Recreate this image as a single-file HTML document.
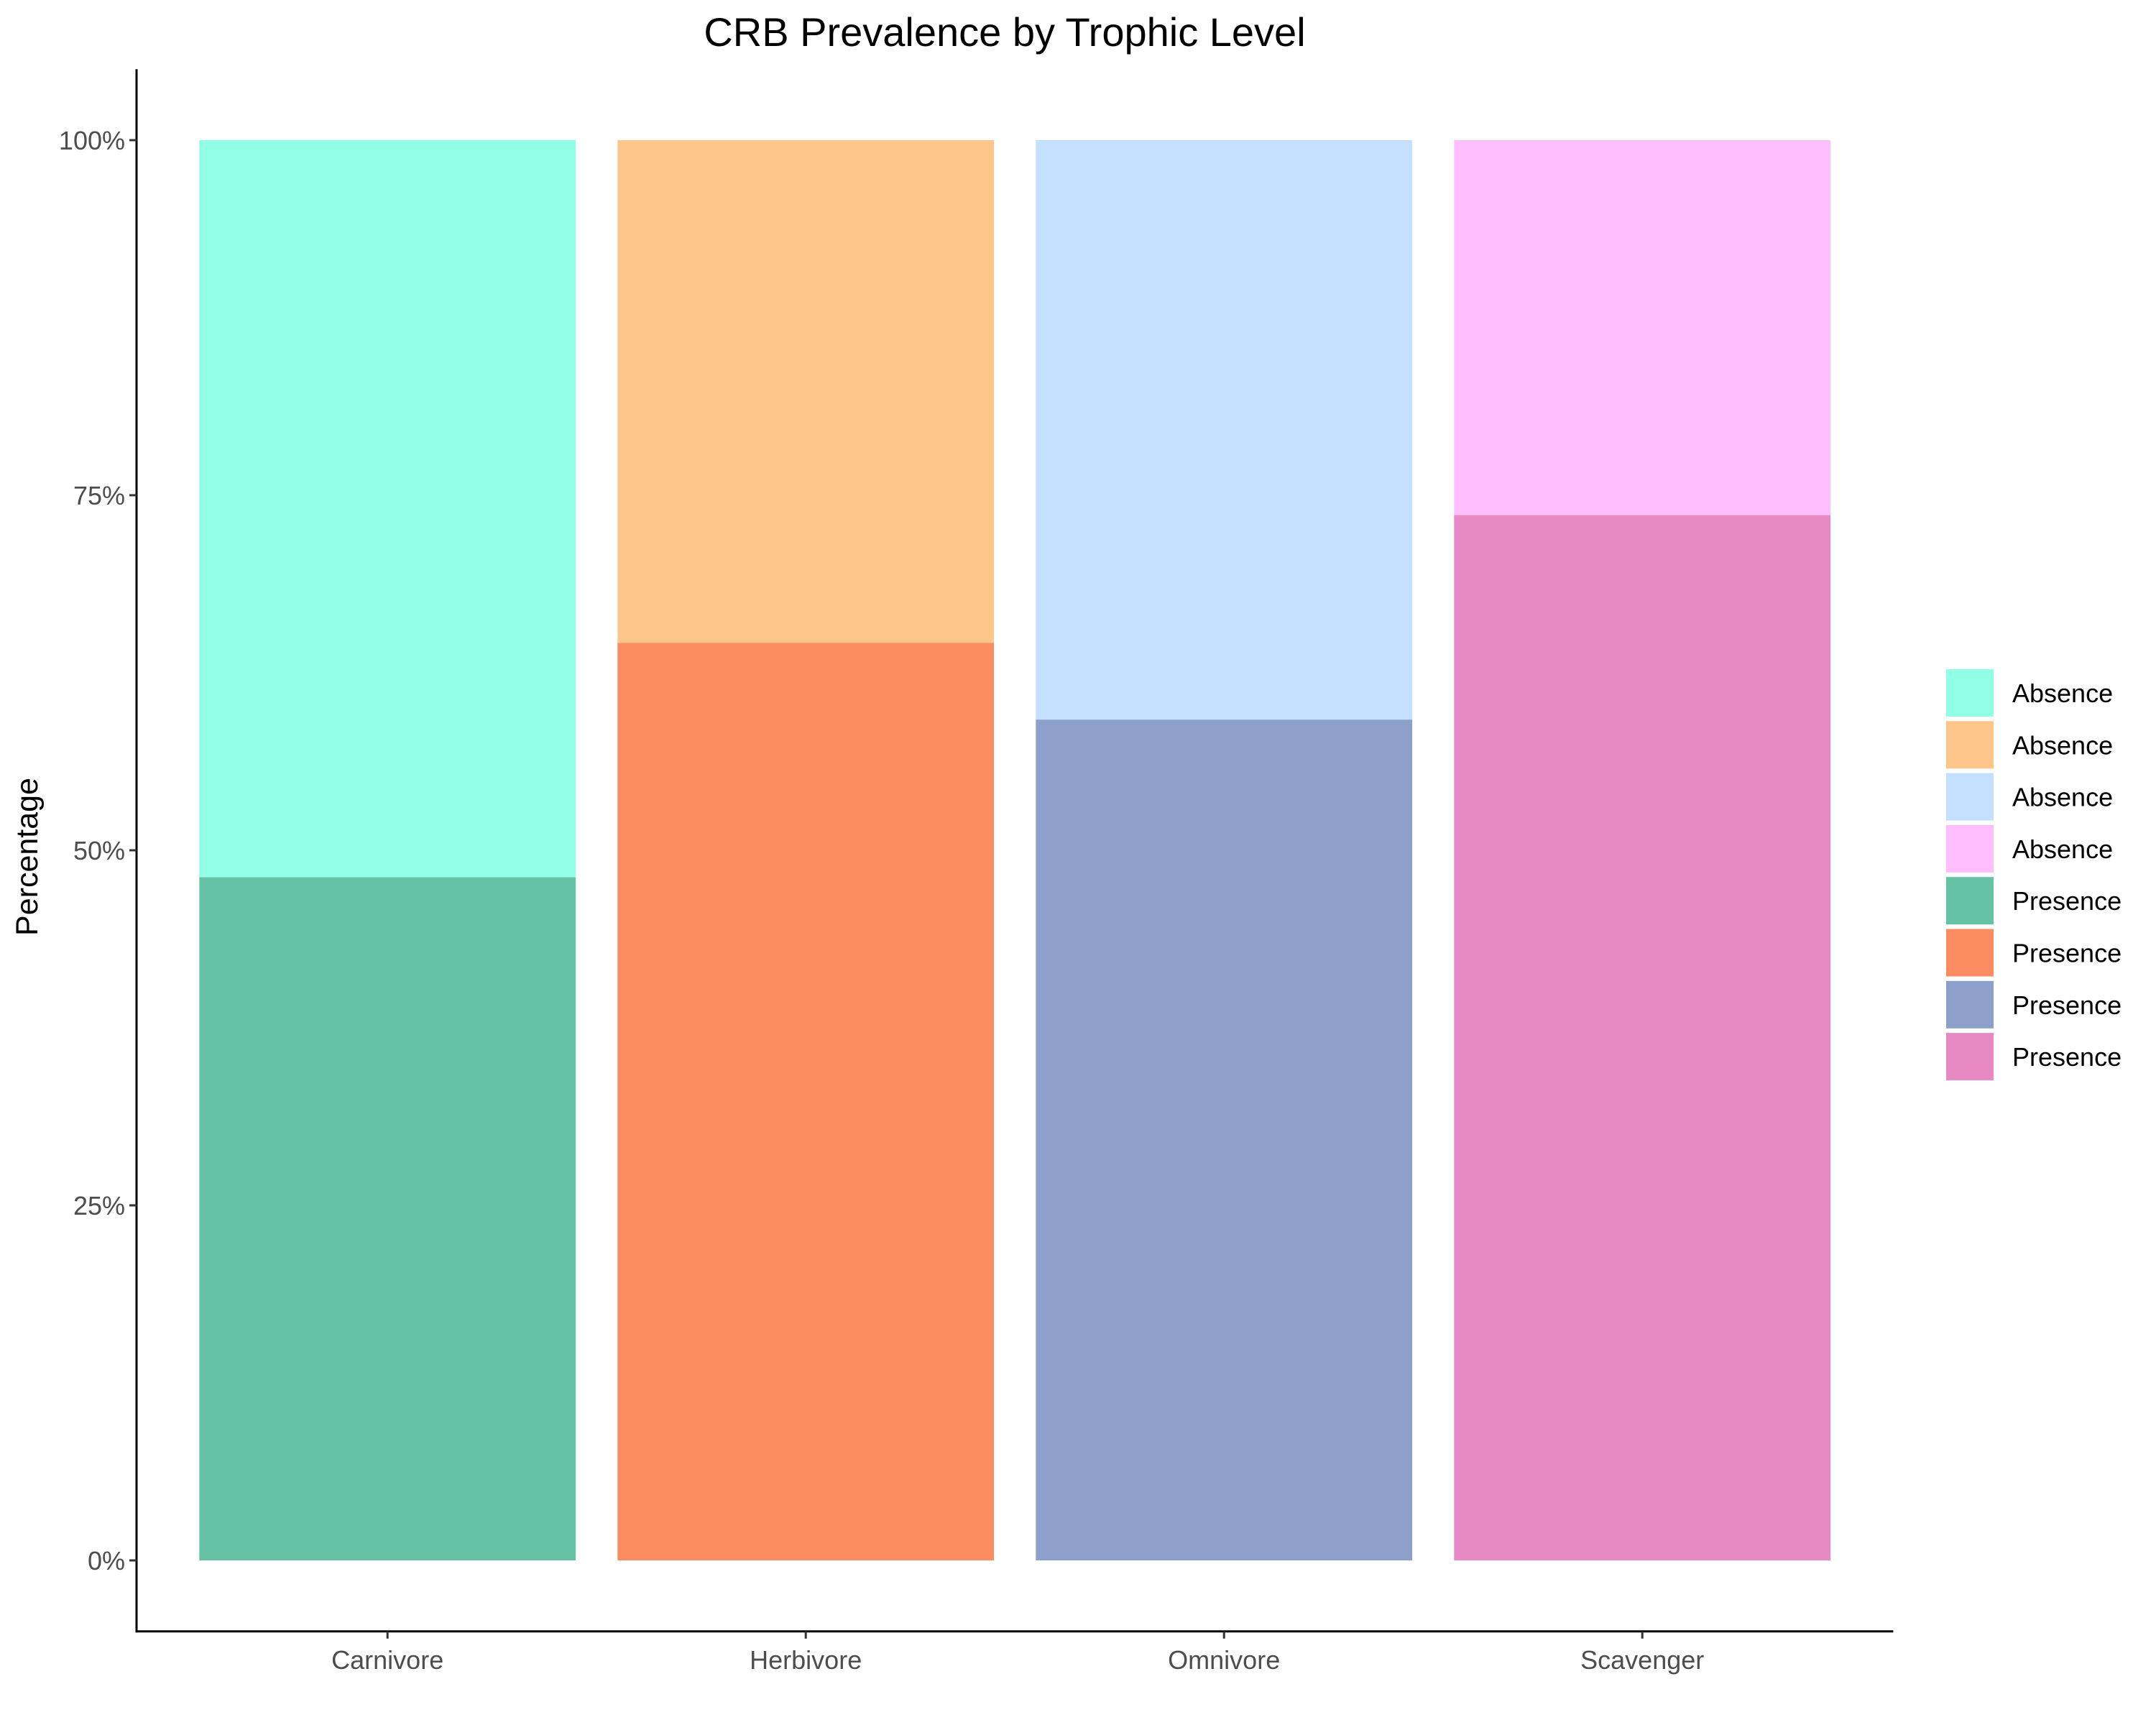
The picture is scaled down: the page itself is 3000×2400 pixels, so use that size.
<!DOCTYPE html>
<html><head><meta charset="utf-8"><style>
html,body{margin:0;padding:0;background:#fff;}
svg{display:block;font-family:"Liberation Sans",Arial,sans-serif;}
</style></head><body>
<svg id="chart" width="3000" height="2400" viewBox="0 0 3000 2400" xmlns="http://www.w3.org/2000/svg">
<text x="1398" y="64" font-size="56" text-anchor="middle" fill="#000">CRB Prevalence by Trophic Level</text>
<text transform="translate(52,1192) rotate(-90)" font-size="43" text-anchor="middle" fill="#000">Percentage</text>
<g id="bars"></g>
<g id="axes"></g>
<g id="legend"></g>
</svg>
<script>
const categories = ["Carnivore","Herbivore","Omnivore","Scavenger"];
const presence = [0.481, 0.646, 0.592, 0.736];
const yTicks = [0, 0.25, 0.5, 0.75, 1];
const yTickLabels = ["0%","25%","50%","75%","100%"];
const legendLabels = ["Absence","Absence","Absence","Absence","Presence","Presence","Presence","Presence"];
const absenceColors = ["#91FFE6","#FFC68C","#C5E0FF","#FFBFFF"];
const presenceColors = ["#66C2A5","#FC8D62","#8DA0CB","#E78AC3"];

const NS="http://www.w3.org/2000/svg";
const x0=190, bandW=582, yZero=2171, yScaleH=1976;
function xPos(i){return x0+bandW*(i+0.6);}
function yPos(v){return yZero-v*yScaleH;}
function mk(tag,attrs,parent){const e=document.createElementNS(NS,tag);for(const k in attrs)e.setAttribute(k,attrs[k]);parent.appendChild(e);return e;}

const bars=document.getElementById('bars');
const bw=bandW*0.9;
categories.forEach((c,i)=>{
  const cx=xPos(i);
  const a=mk('rect',{x:cx-bw/2,y:yPos(1),width:bw,height:yPos(presence[i])-yPos(1),fill:absenceColors[i]},bars);
  
  
  const p=mk('rect',{x:cx-bw/2,y:yPos(presence[i]),width:bw,height:yPos(0)-yPos(presence[i]),fill:presenceColors[i]},bars);
  
  
});

const axes=document.getElementById('axes');
const yTop=yPos(1.05), yBot=yPos(-0.05), xEnd=x0+bandW*4.2;
const yl=mk('line',{x1:x0,y1:yTop,x2:x0,y2:yBot+1.5,stroke:'#000','stroke-width':3},axes);


const xl=mk('line',{x1:x0-1.5,y1:yBot,x2:xEnd,y2:yBot,stroke:'#000','stroke-width':3},axes);


yTicks.forEach((v,i)=>{
  const t=mk('line',{x1:x0-10,y1:yPos(v),x2:x0,y2:yPos(v),stroke:'#333','stroke-width':3},axes);
  
  
  const l=mk('text',{x:x0-16,y:yPos(v)+13,'font-size':36,'text-anchor':'end',fill:'#4d4d4d'},axes);
  l.textContent=yTickLabels[i];
  
  
});
categories.forEach((c,i)=>{
  const t=mk('line',{x1:xPos(i),y1:yBot,x2:xPos(i),y2:yBot+10,stroke:'#333','stroke-width':3},axes);
  
  
  const l=mk('text',{x:xPos(i),y:yBot+52,'font-size':36,'text-anchor':'middle',fill:'#4d4d4d'},axes);
  l.textContent=c;
  
  
});

const legend=document.getElementById('legend');
const legendColors=absenceColors.concat(presenceColors);
legendLabels.forEach((lab,i)=>{
  const y=931+i*72.3;
  const r=mk('rect',{x:2708,y:y,width:66,height:66,fill:legendColors[i]},legend);
  
  
  const t=mk('text',{x:2800,y:y+46,'font-size':36,fill:'#000'},legend);
  t.textContent=lab;
  
  
});
</script>
</body></html>
